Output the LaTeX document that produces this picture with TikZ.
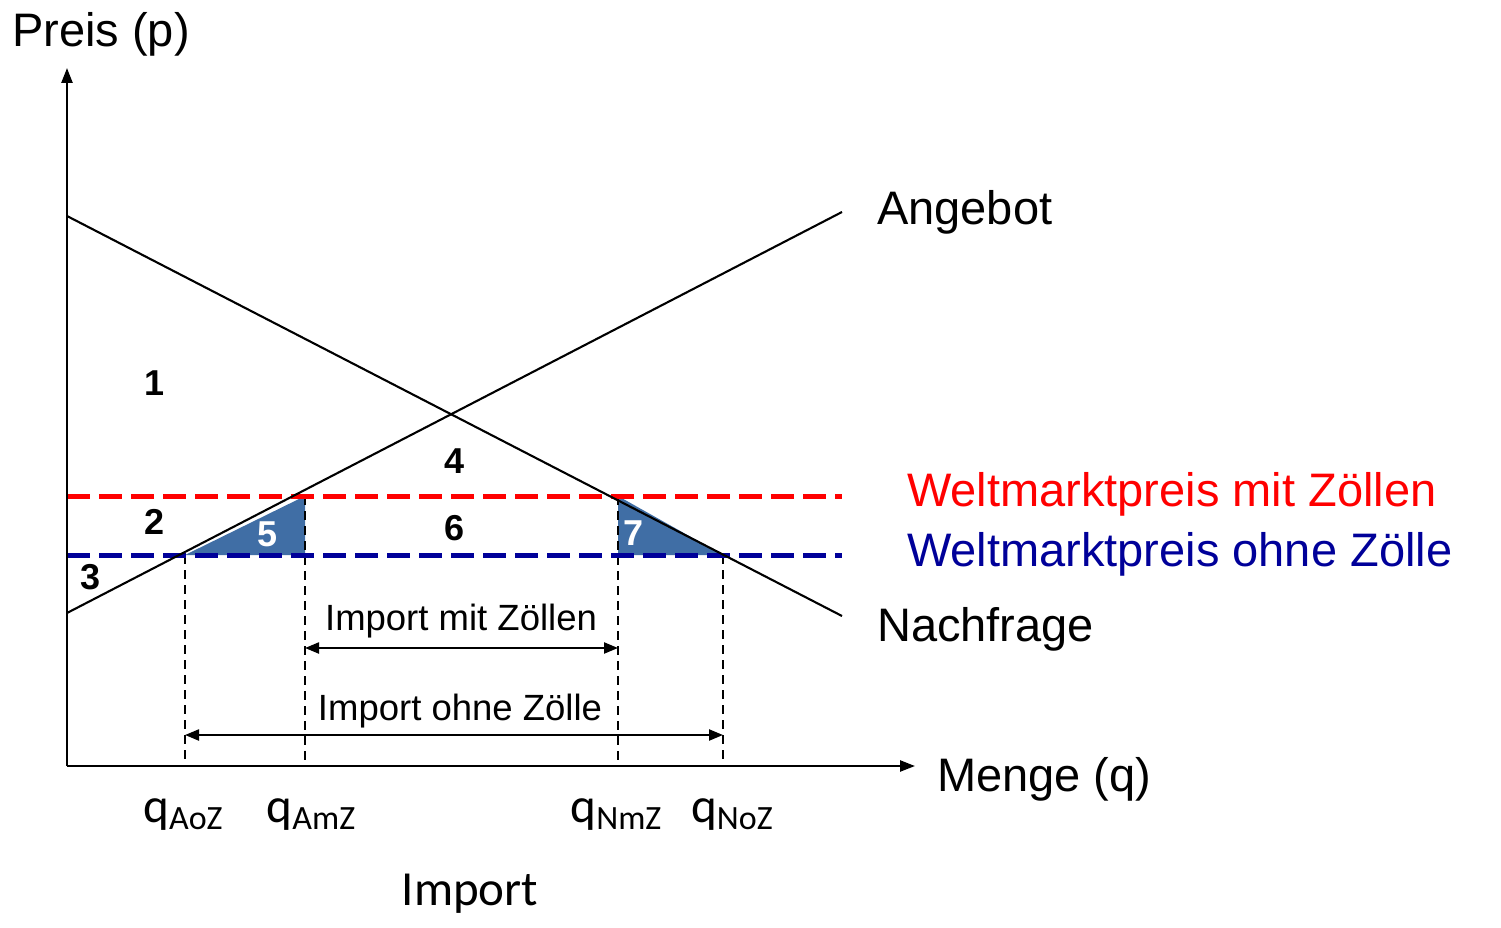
\documentclass[tikz,border=0pt]{standalone}
\usepackage{fontspec}
\setmainfont{Liberation Sans}
\newfontfamily\carl{Carlito}
\usetikzlibrary{arrows.meta}
\definecolor{wred}{RGB}{255,0,0}
\definecolor{wblue}{RGB}{0,0,153}
\definecolor{tri}{RGB}{64,110,165}
\tikzset{
  axis/.style={line width=2.4pt,-{Triangle[length=15pt,width=11pt]}},
  curve/.style={line width=2.1pt},
  redline/.style={wred,line width=5pt,dash pattern=on 23pt off 9pt},
  blueline/.style={wblue,line width=5pt,dash pattern=on 23pt off 9pt},
  guide/.style={line width=1.8pt,dash pattern=on 9pt off 6pt},
  dimarrow/.style={line width=2.2pt,{Triangle[length=14pt,width=11pt]}-{Triangle[length=14pt,width=11pt]}},
  big/.style={font=\fontsize{47}{56}\selectfont},
  mid/.style={font=\fontsize{36.5}{44}\selectfont},
  num/.style={font=\fontsize{36}{42}\selectfont\bfseries},
  qlab/.style={font=\carl\fontsize{49}{56}\selectfont,anchor=base},
  areafill/.style={fill=tri,draw=none}
}
\newcommand{\qsub}[1]{q\raisebox{-7pt}{\fontsize{34}{40}\selectfont #1}}
\begin{document}
\begin{tikzpicture}[x=1pt,y=-1pt]
\useasboundingbox (0,0) rectangle (1501,928);
% key points
\coordinate (O) at (67,766);
\coordinate (Ytop) at (67,68);
\coordinate (Xend) at (915,766);
\coordinate (D1) at (67,216);
\coordinate (D2) at (842,616);
\coordinate (S1) at (67,613);
\coordinate (S2) at (842,212);
\coordinate (RL) at (67,496);
\coordinate (RR) at (842,496);
\coordinate (BL) at (67,555);
\coordinate (BR) at (842,555);
\coordinate (A) at (185,555);
\coordinate (Ab) at (185,766);
\coordinate (B) at (305,496);
\coordinate (Bm) at (305,555);
\coordinate (Bb) at (305,766);
\coordinate (C) at (618,496);
\coordinate (Cm) at (618,555);
\coordinate (Cb) at (618,766);
\coordinate (E) at (723,555);
\coordinate (Eb) at (723,766);
\coordinate (M1L) at (305,648);
\coordinate (M1R) at (618,648);
\coordinate (M2L) at (185,735);
\coordinate (M2R) at (723,735);
% shaded triangles
\fill[areafill] (A) -- (B) -- (Bm) -- cycle;
\fill[areafill] (C) -- (E) -- (Cm) -- cycle;
% guides
\draw[guide] (A) -- (Ab);
\draw[guide] (B) -- (Bb);
\draw[guide] (C) -- (Cb);
\draw[guide] (E) -- (Eb);
% price lines
\draw[redline] (RL) -- (RR);
\draw[blueline] (BL) -- (BR);
% curves
\draw[curve] (D1) -- (D2);
\draw[curve] (S1) -- (S2);
% axes
\draw[axis] (O) -- (Ytop);
\draw[axis] (O) -- (Xend);
% import arrows
\draw[dimarrow] (M1L) -- (M1R);
\draw[dimarrow] (M2L) -- (M2R);
% labels
\node[big,anchor=base west,inner sep=0] (preis) at (12,47) {Preis (p)};
\node[big,anchor=base west,inner sep=0] (angebot) at (877,225) {Angebot};
\node[big,anchor=base west,inner sep=0] (nachfrage) at (877,641) {Nachfrage};
\node[big,anchor=base west,inner sep=0] (menge) at (937,791) {Menge (q)};
\node[big,anchor=base west,inner sep=0,text=wred] (wmit) at (907,506) {Weltmarktpreis mit Zöllen};
\node[big,anchor=base west,inner sep=0,text=wblue] (wohne) at (907,566) {Weltmarktpreis ohne Zölle};
\node[mid,anchor=base,inner sep=0] (impmit) at (461,630) {Import mit Zöllen};
\node[mid,anchor=base,inner sep=0] (impohne) at (460,720) {Import ohne Zölle};
\node[qlab,inner sep=0] (qaoz) at (183,822) {\qsub{AoZ}};
\node[qlab,inner sep=0] (qamz) at (311,822) {\qsub{AmZ}};
\node[qlab,inner sep=0] (qnmz) at (616,822) {\qsub{NmZ}};
\node[qlab,inner sep=0] (qnoz) at (732,822) {\qsub{NoZ}};
\node[qlab,inner sep=0] (import) at (470,905) {Import};
% area numbers
\node[num] (n1) at (155,383) {1};
\node[num] (n2) at (155,522) {2};
\node[num] (n3) at (91,577) {3};
\node[num] (n4) at (455,461) {4};
\node[num,text=white] (n5) at (268,534) {5};
\node[num] (n6) at (455,528) {6};
\node[num,text=white] (n7) at (634,533) {7};
\end{tikzpicture}
\end{document}
